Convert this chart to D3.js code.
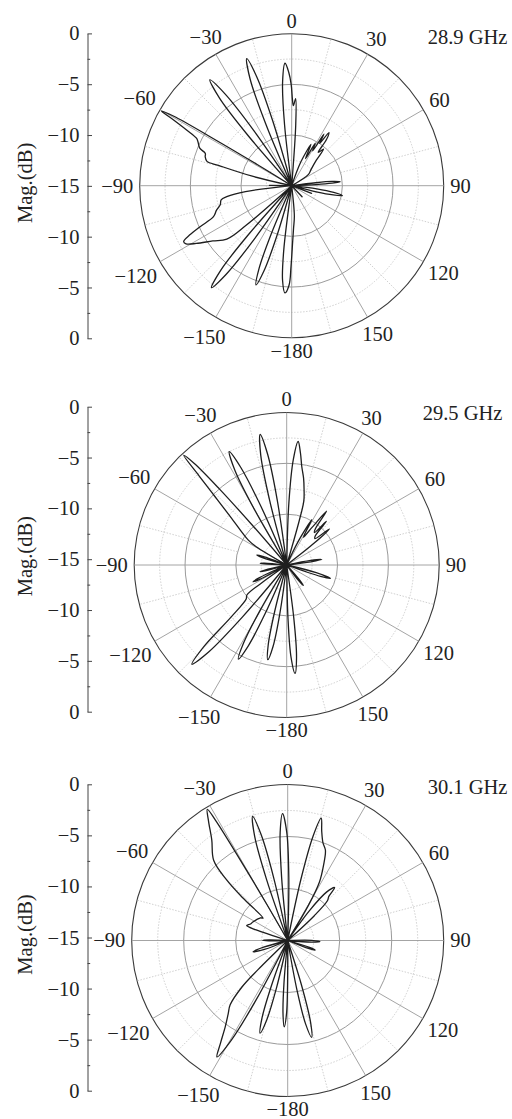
<!DOCTYPE html>
<html><head><meta charset="utf-8">
<script src="https://cdn.jsdelivr.net/npm/d3@7/dist/d3.min.js"></script>
<style>
body{margin:0;background:#fff}
svg{display:block}
text{font-family:"Liberation Serif","Times New Roman",serif;fill:#222}
</style>
</head><body>
<script>
// ---------- data ----------
const freqLabels = ["28.9 GHz", "29.5 GHz", "30.1 GHz"];
const angleTicks = [0, 30, 60, 90, 120, 150, 180, -150, -120, -90, -60, -30];
const angleTickLabels = ["0", "30", "60", "90", "120", "150", "−180", "−150", "−120", "−90", "−60", "−30"];
const magAxisTicks = [-15, -10, -5, 0, 5, 10, 15];
const magAxisLabels = ["0", "−5", "−10", "−15", "−10", "−5", "0"];
const magAxisMinor = [-12.5, -7.5, -2.5, 2.5, 7.5, 12.5];
const ringLevels = [-12.5, -10, -7.5, -5, -2.5, 0];

// [angle (deg), magnitude (dB)]
const pattern289 = [
  [-179.5,-7],[-178.5,-5.2],[-176.4,-4.4],[-174.5,-5.6],[-173,-8.5],[-171.5,-15],
  [-165.2,-15],[-163.5,-9.8],[-162,-6.2],[-160.2,-4.6],[-158.5,-6.2],[-157,-9.8],[-155.2,-15],
  [-146.8,-15],[-145,-8.6],[-143.5,-4.1],[-141.8,-2.2],[-140,-4.1],[-138.5,-8.6],[-136.8,-15],
  [-132,-15],[-131,-9],[-129.5,-6.7],[-125,-5.5],[-121.2,-4.0],[-118.8,-3.1],[-117.3,-3.0],[-115.8,-3.8],[-114.1,-5.1],[-111.6,-6.7],[-108,-7.2],[-105,-7.7],[-101.3,-7.9],[-99.6,-8.5],[-97.3,-10.4],[-95.5,-15],
  [-92,-15],[-89,-12.8],[-86,-15],
  [-79,-15],[-76.5,-11],[-74.5,-7.5],[-74,-6.3],[-71.5,-6],[-69.5,-5.9],[-67.8,-5.2],[-65,-4.8],[-63.5,-4.5],[-62.1,-3.3],[-60.8,-1.5],[-60.2,-0.2],[-59.5,-1.5],[-59,-6],[-58.5,-11],[-58,-15],
  [-42.7,-15],[-41,-8.4],[-39.5,-3.8],[-37.7,-1.8],[-36,-3.8],[-34.5,-8.4],[-32.7,-15],
  [-24.5,-15],[-22.8,-8.4],[-21.3,-3.7],[-19.5,-1.7],[-17.8,-3.7],[-16.3,-8.4],[-14.5,-15],
  [-8.5,-15],[-6.7,-9],[-5,-4.7],[-3.1,-2.9],[-1.5,-3.8],[-0.3,-5],[0.5,-6.5],[1.2,-7.1],[2.6,-6.4],[3.8,-9],[4.6,-15],
  [17,-15],[21,-12.5],[25,-10.5],[27,-12],[29,-10.2],[31,-11],[32,-9],[33.5,-10],[35,-8.6],[37,-9.3],[38.5,-10.8],[41,-10.2],[44,-11.5],[50,-12.5],[56,-13],[60,-15],
  [81,-15],[83,-12.6],[84,-11],[85.3,-10.2],[86.3,-11],[87.3,-12.6],[89,-15],
  [94,-15],[97,-12.5],[99,-10.8],[101,-9.9],[102.5,-10.8],[104,-12.5],[106,-15],
  [108,-15],[111,-12.9],[114,-15],
  [133,-15],[137,-13.5],[141,-15],
  [172,-15],[175,-12],[177.5,-10.8],[179,-9.5]
];

const pattern295 = [
  [-173.7,-15],[-172,-10.3],[-170.5,-6.9],[-168.7,-5.5],[-167,-6.9],[-165.5,-10.3],[-163.7,-15],
  [-157.8,-15],[-156.1,-9.8],[-154.6,-6.2],[-152.8,-4.6],[-151.1,-6.2],[-149.6,-9.8],[-147.8,-15],
  [-141.3,-15],[-139.6,-8.3],[-138.1,-3.5],[-136.3,-1.5],[-134.6,-3.5],[-133.1,-7.5],[-130,-9.8],[-127,-10.1],[-125.5,-12],[-124.5,-15],
  [-120,-15],[-118,-12],[-116.6,-11.3],[-115,-12],[-113,-15],
  [-107,-15],[-105,-12.8],[-104,-12.3],[-103,-12.8],[-101,-15],
  [-89,-15],[-87,-12.8],[-86,-12.4],[-85,-12.8],[-83,-15],
  [-75,-15],[-73,-12.5],[-71.6,-11.9],[-70.2,-12.5],[-68.5,-15],
  [-62,-15],[-59,-11.5],[-57,-10.5],[-49.7,-7.9],[-46.4,-5.3],[-44.5,-2.7],[-43.2,-0.2],[-42.3,-1.5],[-41.5,-5],[-40.8,-10],[-40.2,-15],
  [-31.9,-15],[-30.2,-8.8],[-28.7,-4.4],[-26.9,-2.5],[-25.2,-4.4],[-23.7,-8.8],[-21.9,-15],
  [-16.5,-15],[-14.8,-8.5],[-13.3,-3.9],[-11.5,-1.9],[-9.8,-3.9],[-8.3,-8.5],[-6.5,-15],
  [0.5,-15],[2,-8.9],[3.6,-4.6],[5.3,-2.8],[7,-3.9],[8.7,-5.2],[11,-6.3],[13,-7.4],[15,-8.5],[15.8,-10.5],[16.3,-15],
  [22,-15],[26,-12.5],[29,-9.9],[31,-11.8],[34,-10.5],[36.5,-8.4],[38.5,-10.5],[40.5,-10.8],[42.3,-9.2],[44.5,-11],[47,-11.2],[49.8,-9.5],[51.5,-11.5],[53,-15],
  [77,-15],[79.3,-12.6],[81,-11.5],[82.7,-12.6],[85,-15],
  [102,-15],[104.5,-12],[107,-10.5],[108.5,-11.5],[111,-15],
  [137,-15],[139.5,-13],[141,-12.4],[142.5,-13],[145,-15],
  [170.6,-15],[172.4,-9.7],[173.9,-5.9],[175.6,-4.3],[177.3,-5.9],[178.6,-9.7],[180,-15]
];

const pattern301 = [
  [-180,-12],[-179.1,-8],[-177.7,-6.7],[-176.3,-8],[-175,-10.9],[-173.7,-15],
  [-168.4,-15],[-166.7,-10.4],[-165.2,-7.1],[-163.4,-5.7],[-161.7,-7.1],[-160.2,-10.4],[-158.4,-15],
  [-153.7,-15],[-152,-8.5],[-150.5,-4],[-148.7,-1.9],[-146.8,-3.2],[-144,-4.8],[-141,-5.9],[-138.2,-6.7],[-135.5,-8.7],[-134.5,-11],[-134,-15],
  [-113,-15],[-111,-12.6],[-108,-11.5],[-105.5,-12.6],[-103,-15],
  [-93,-15],[-91,-13.2],[-89.5,-12.6],[-88,-13.2],[-86,-15],
  [-73,-15],[-71.5,-11.8],[-70,-10.8],[-66,-11.1],[-62,-11.2],[-56,-11.4],[-50,-11.6],[-47.7,-11.8],[-46.5,-9],[-45.2,-6.7],[-42.7,-4.5],[-37.1,-2.9],[-33.5,-1.2],[-31.5,-0.2],[-31,-1.5],[-30.5,-6],[-30,-11],[-29.3,-15],
  [-20.8,-15],[-19.1,-8.8],[-17.6,-4.5],[-15.8,-2.6],[-14.1,-4.5],[-12.6,-8.8],[-10.8,-15],
  [-7.3,-15],[-5.5,-8.9],[-4,-4.6],[-2.3,-2.8],[-0.5,-4.6],[1,-8.9],[2.7,-15],
  [10.5,-15],[12.2,-8.9],[13.7,-4.6],[15.3,-2.8],[17.3,-4],[19.8,-5],[22.7,-5.6],[25.5,-7],[28.5,-8.6],[30.5,-11],[31.5,-15],
  [33,-15],[36,-11.5],[38.8,-9],[41.6,-8.2],[43,-9.2],[45,-9.6],[47,-11.5],[49,-15],
  [87,-15],[89.5,-12.7],[92,-11.9],[94,-12.7],[96.5,-15],
  [105,-15],[107.5,-12.8],[109.2,-12.2],[111,-12.8],[113,-15],
  [161.1,-15],[162.9,-10.2],[164.4,-6.8],[166.1,-5.4],[167.9,-6.8],[169.4,-10.2],[171.1,-15],
  [178.5,-15]
];

const patterns = [pattern289, pattern295, pattern301];

// ---------- layout ----------
const W = 512, H = 1119;
const layout = [
  {cx: 291.7, cy: 185.7, R: 152,   axX: 87.5, axTop: 33.4,  axBot: 338.3,  tx: 427.7, ty: 43.5},
  {cx: 286.7, cy: 565,   R: 152.5, axX: 87.5, axTop: 406.7, axBot: 711.7,  tx: 422.7, ty: 420.3},
  {cx: 287.7, cy: 940.5, R: 156,   axX: 87.5, axTop: 784.3, axBot: 1090.7, tx: 427.7, ty: 793.5}
];
const FS = 20.5;

const svg = d3.select("body").append("svg").attr("width", W).attr("height", H);

layout.forEach((L, i) => {
  const g = svg.append("g");
  const rScale = d3.scaleLinear().domain([-15, 0]).range([0, L.R]).clamp(true);
  const pg = g.append("g").attr("transform", `translate(${L.cx},${L.cy})`);

  // grid rings
  ringLevels.forEach(v => {
    const solid = v % 5 === 0;
    const outer = v === 0;
    pg.append("circle").attr("r", rScale(v)).attr("fill", "none")
      .attr("stroke", outer ? "#3a3a3a" : (solid ? "#8f8f8f" : "#c4c4c4"))
      .attr("stroke-width", outer ? 1.1 : (solid ? 0.9 : 0.8))
      .attr("stroke-dasharray", solid ? null : "1.5,1.5");
  });

  // spokes
  d3.range(-180, 180, 15).forEach(a => {
    const major = a % 30 === 0;
    const rad = a * Math.PI / 180;
    const r0 = major ? 0 : rScale(-10);
    const r1 = rScale(0);
    pg.append("line")
      .attr("x1", r0 * Math.sin(rad)).attr("y1", -r0 * Math.cos(rad))
      .attr("x2", r1 * Math.sin(rad)).attr("y2", -r1 * Math.cos(rad))
      .attr("stroke", major ? "#9a9a9a" : "#c4c4c4")
      .attr("stroke-width", major ? 0.9 : 0.8)
      .attr("stroke-dasharray", major ? null : "1.5,1.5");
  });

  // angle labels
  angleTicks.forEach((a, k) => {
    const t = pg.append("text").attr("font-size", FS).attr("text-anchor", "middle")
      .attr("dy", "0.34em").text(angleTickLabels[k]);
    const w = t.node().getComputedTextLength();
    const rad = a * Math.PI / 180;
    const d = L.R + 6.5 + (w / 2) * Math.abs(Math.sin(rad)) + 6.5 * Math.abs(Math.cos(rad));
    t.attr("x", d * Math.sin(rad)).attr("y", -d * Math.cos(rad));
  });

  // pattern curve
  const line = d3.lineRadial()
    .angle(d => d[0] * Math.PI / 180)
    .radius(d => rScale(d[1]))
    .curve(d3.curveCatmullRomClosed.alpha(0.5));
  pg.append("path").datum(patterns[i]).attr("d", line)
    .attr("fill", "none").attr("stroke", "#1e1e1e").attr("stroke-width", 1.3)
    .attr("stroke-linejoin", "round");

  // left magnitude axis
  const yScale = d3.scaleLinear().domain([-15, 15]).range([L.axTop, L.axBot]);
  const axMajor = d3.axisLeft(yScale).tickValues(magAxisTicks)
    .tickSizeInner(-4.5).tickSizeOuter(0).tickPadding(8)
    .tickFormat((d, k) => magAxisLabels[k]);
  const ag = g.append("g").attr("transform", `translate(${L.axX},0)`).call(axMajor);
  ag.select(".domain").attr("stroke", "#444").attr("stroke-width", 1);
  ag.selectAll(".tick line").attr("stroke", "#444");
  ag.selectAll(".tick text").attr("font-size", FS).attr("font-family", "Liberation Serif").attr("fill", "#222");
  const axMinor = d3.axisLeft(yScale).tickValues(magAxisMinor)
    .tickSizeInner(-2.7).tickSizeOuter(0).tickFormat("");
  const mg = g.append("g").attr("transform", `translate(${L.axX},0)`).call(axMinor);
  mg.select(".domain").remove();
  mg.selectAll(".tick line").attr("stroke", "#444");

  // axis title
  const my = (L.axTop + L.axBot) / 2 - 3;
  g.append("text").attr("font-size", FS).attr("text-anchor", "middle")
    .attr("transform", `translate(32,${my}) rotate(-90)`).text("Mag.(dB)");

  // frequency label
  g.append("text").attr("font-size", FS).attr("x", L.tx).attr("y", L.ty).text(freqLabels[i]);
});
</script>
</body></html>
